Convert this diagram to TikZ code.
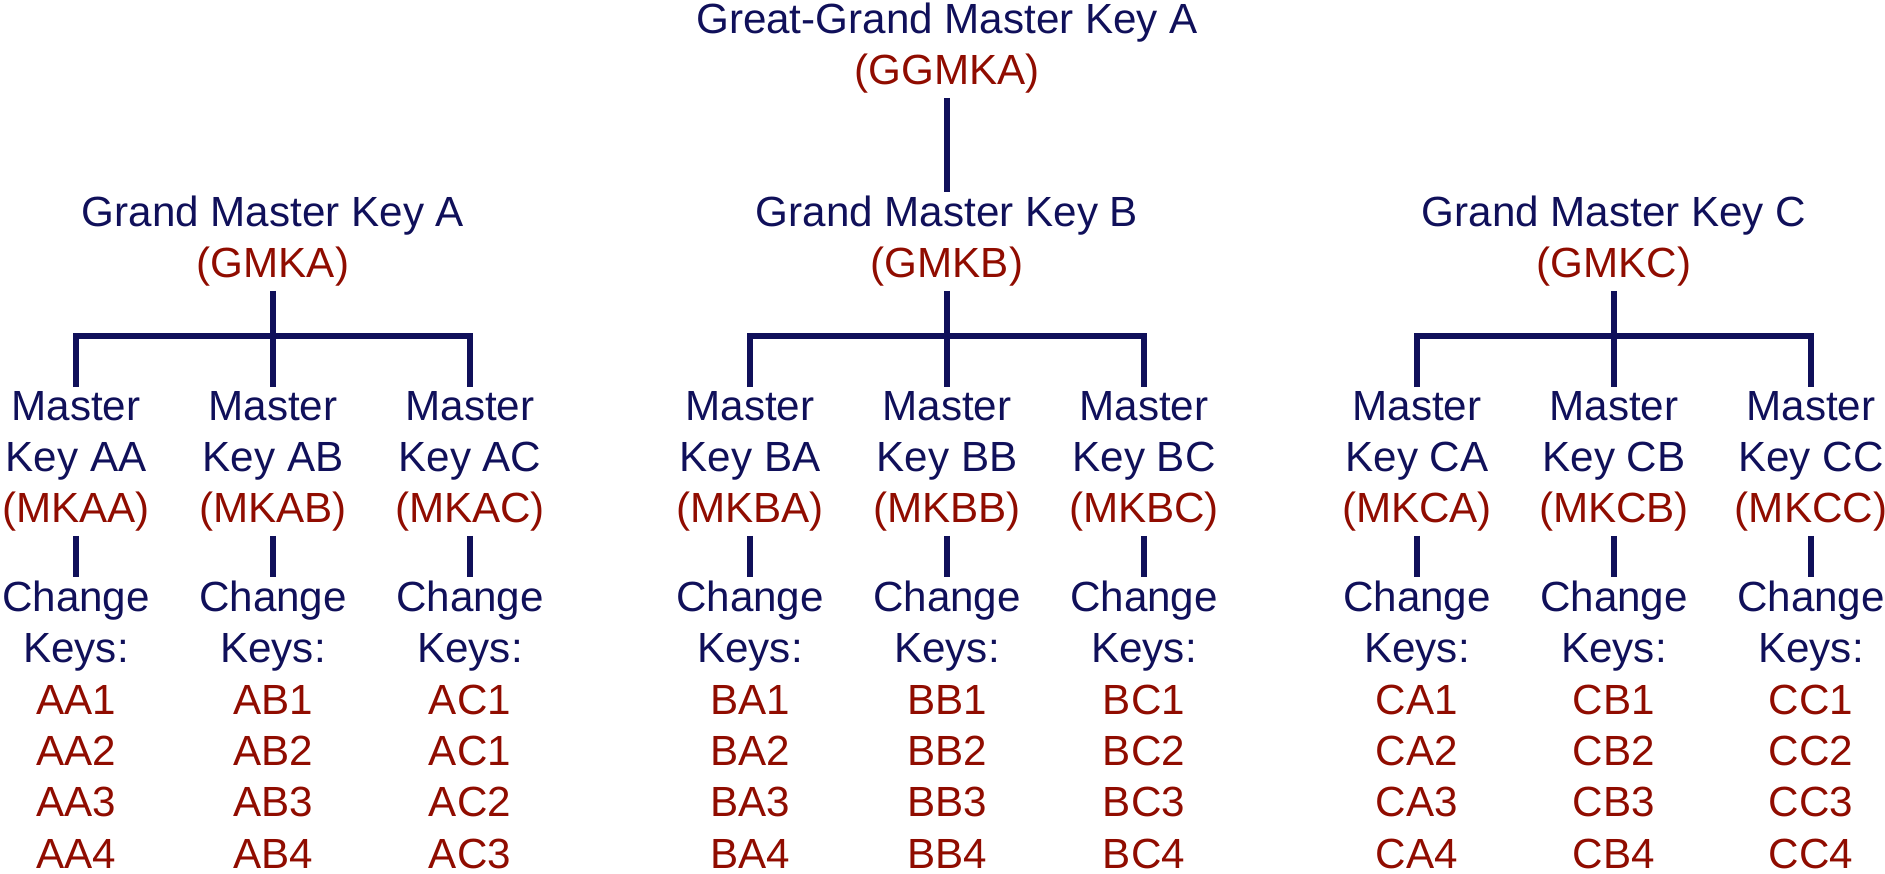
\documentclass[tikz,border=0pt]{standalone}
\usepackage{fontspec}
\setmainfont{Liberation Sans}
\usepackage{tikz}
\definecolor{keyblue}{HTML}{10105A}
\definecolor{keyred}{HTML}{900C00}

\begin{document}
\begin{tikzpicture}[x=0.1mm, y=-0.1mm,
                    line join=miter,
                    keytext/.style={keyblue, align=center, anchor=base,
                                    inner xsep=0pt, inner ysep=1pt,
                                    font=\fontsize{12}{14.6}\selectfont},
                    link/.style={keyblue, line width=1.6pt}]
  \def\r#1{{\color{keyred}#1}}
  % baselines of the last line of each row
  \def\yGrand{278}
  \def\yMaster{523}
  \def\yChange{868}
  \def\yBar{336}
  \def\dx{197}
  \def\oddcol{AC} % this one is printed AC1, AC1, AC2, AC3

  \useasboundingbox (0,0) rectangle (1885,874);

  % TOP KEY
  \node[keytext] (ggmk) at (947,85) {Great-Grand Master Key A\\\r{(GGMKA)}};

  % GRAND MASTER GROUPS
  \foreach \g/\gx in {A/273,B/947,C/1614}{
    \node[keytext] (gmk\g) at (\gx,\yGrand) {Grand Master Key \g\\\r{(GMK\g)}};
    \coordinate (bar\g) at (\gx,\yBar);
    \foreach \m/\mx in {A/-1,B/0,C/1}{
      \node[keytext] (mk\g\m) at (\gx+\mx*\dx,\yMaster) {Master\\Key \g\m\\\r{(MK\g\m)}};
      \edef\cur{\g\m}
      \ifx\cur\oddcol
        \def\keys{\r{AC1}\\\r{AC1}\\\r{AC2}\\\r{AC3}}
      \else
        \def\keys{\r{\g\m1}\\\r{\g\m2}\\\r{\g\m3}\\\r{\g\m4}}
      \fi
      \node[keytext] (ck\g\m) at (\gx+\mx*\dx,\yChange) {Change\\Keys:\\\keys};
      \draw[link] (mk\g\m) -- (ck\g\m);
    }
    % bracket
    \draw[link] (gmk\g.south) -- (mk\g B.north);
    \draw[link] (mk\g A.north) |- (bar\g) -| (mk\g C.north);
  }

  \draw[link] (ggmk) -- (gmkB);

\end{tikzpicture}
\end{document}
